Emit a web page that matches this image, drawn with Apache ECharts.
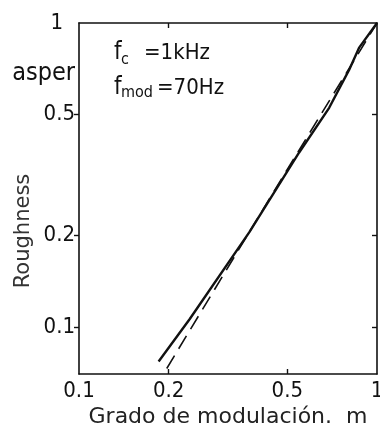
<!DOCTYPE html>
<html>
<head>
<meta charset="utf-8">
<script src="https://cdn.jsdelivr.net/npm/echarts@6/dist/echarts.min.js"></script>
<style>html,body{margin:0;padding:0;background:#fff;}#c{width:380px;height:425px;}</style>
</head>
<body>
<div id="c"></div>
<script>
// ---- data ----
const xLabelValues = [0.1, 0.2, 0.5, 1];
const xTickValues = [0.2, 0.5];
const yLabelValues = [0.1, 0.2, 0.5, 0.68, 1];
const yTickValues = [0.1, 0.2, 0.5];
const yUnitValue = 0.68;
const yUnitText = 'asper';
const xTitle = 'Grado de modulación.  m';
const yTitle = 'Roughness';
// measured curve (solid)
const solidM = [0.185, 0.235, 0.373, 0.548, 0.691, 0.806, 0.870, 1.0];
const solidR = [0.077, 0.106, 0.205, 0.375, 0.526, 0.701, 0.828, 1.0];
// model curve (dashed)
const dashedM = [0.197, 0.5, 1.0];
const dashedR = [0.073, 0.33, 1.0];

const ff = "'DejaVu Sans Condensed', 'DejaVu Sans', sans-serif";
const ffTitle = "'DejaVu Sans', sans-serif";
const ink = '#111';

function fmt(v) {
  if (Math.abs(v - yUnitValue) < 0.01) return '{u|' + yUnitText + '}';
  if (Math.abs(v - 1) < 1e-6) return '{one|1}';
  return '{n|' + String(+(+v).toPrecision(3)) + '}';
}
function fmtX(v) {
  return String(+(+v).toPrecision(3));
}

const axisLine = { show: true, lineStyle: { color: ink, width: 1.6 } };
const tickStyle = { color: ink, width: 1.4 };

const chart = echarts.init(document.getElementById('c'), null, { renderer: 'canvas' });
chart.setOption({
  animation: false,
  backgroundColor: '#fff',
  grid: { left: 79, right: 3, top: 23, bottom: 51, containLabel: false, outerBoundsMode: 'none' },
  xAxis: [
    {
      type: 'log', logBase: 10, min: 0.1, max: 1, position: 'bottom',
      axisLine: axisLine,
      axisTick: { show: true, inside: true, length: 5, customValues: xTickValues, lineStyle: tickStyle },
      minorTick: { show: false },
      splitLine: { show: false },
      axisLabel: { customValues: xLabelValues, formatter: fmtX, fontSize: 22, fontFamily: ff, color: ink, margin: 6, hideOverlap: false },
      name: xTitle, nameLocation: 'middle', nameGap: 32, nameMoveOverlap: false,
      nameTextStyle: { fontSize: 22, fontFamily: ffTitle, color: '#222' }
    },
    {
      type: 'log', logBase: 10, min: 0.1, max: 1, position: 'top',
      axisLine: axisLine,
      axisTick: { show: true, inside: true, length: 5, customValues: xTickValues, lineStyle: tickStyle },
      splitLine: { show: false },
      axisLabel: { show: false }
    }
  ],
  yAxis: [
    {
      type: 'log', logBase: 10, min: 0.07, max: 1, position: 'left',
      axisLine: axisLine,
      axisTick: { show: true, inside: false, length: 5, customValues: yTickValues, lineStyle: tickStyle },
      splitLine: { show: false },
      axisLabel: {
        customValues: yLabelValues, formatter: fmt, fontSize: 22, fontFamily: ff, color: ink, margin: 4, hideOverlap: false,
        rich: {
          n: { fontSize: 22, fontFamily: ff, color: ink },
          u: { fontSize: 25, fontFamily: ff, color: ink },
          one: { fontSize: 22, fontFamily: ff, color: ink, padding: [0, 12, 0, 0] }
        }
      }
    },
    {
      type: 'log', logBase: 10, min: 0.07, max: 1, position: 'right',
      axisLine: axisLine,
      axisTick: { show: true, inside: true, length: 5, customValues: yTickValues, lineStyle: tickStyle },
      splitLine: { show: false },
      axisLabel: { show: false }
    }
  ],
  graphic: [
    { type: 'text', x: 24, y: 231, rotation: Math.PI / 2,
      style: { text: yTitle, font: '21px ' + ffTitle, fill: '#333', textAlign: 'center', textVerticalAlign: 'middle' } },
    { type: 'text', x: 114, y: 53, style: { text: 'f', font: '24px ' + ff, fill: ink, textAlign: 'left', textVerticalAlign: 'middle' } },
    { type: 'text', x: 121, y: 60, style: { text: 'c', font: '16px ' + ff, fill: ink, textAlign: 'left', textVerticalAlign: 'middle' } },
    { type: 'text', x: 144, y: 53, style: { text: '=1kHz', font: '22px ' + ff, fill: ink, textAlign: 'left', textVerticalAlign: 'middle' } },
    { type: 'text', x: 114, y: 88, style: { text: 'f', font: '24px ' + ff, fill: ink, textAlign: 'left', textVerticalAlign: 'middle' } },
    { type: 'text', x: 121, y: 93, style: { text: 'mod', font: '16px ' + ff, fill: ink, textAlign: 'left', textVerticalAlign: 'middle' } },
    { type: 'text', x: 157, y: 88, style: { text: '=70Hz', font: '22px ' + ff, fill: ink, textAlign: 'left', textVerticalAlign: 'middle' } }
  ],
  series: [
    {
      type: 'line', xAxisIndex: 0, yAxisIndex: 0, showSymbol: false, symbol: 'none',
      data: solidM.map((m, i) => [m, solidR[i]]),
      lineStyle: { color: ink, width: 2.4 }, z: 3
    },
    {
      type: 'line', xAxisIndex: 0, yAxisIndex: 0, showSymbol: false, symbol: 'none',
      data: dashedM.map((m, i) => [m, dashedR[i]]),
      lineStyle: { color: ink, width: 1.6, type: [15, 8] }, z: 2
    }
  ]
});
</script>
</body>
</html>
